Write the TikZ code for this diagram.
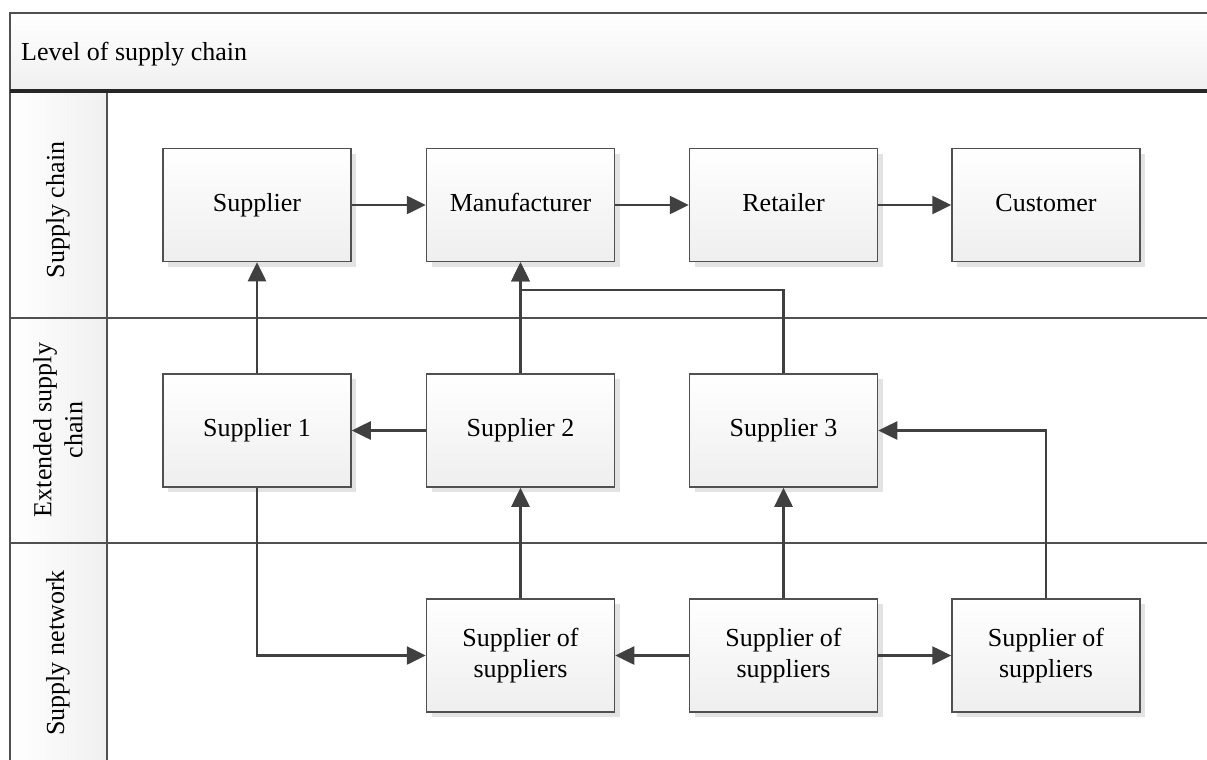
\documentclass[tikz,border=0pt]{standalone}
\usepackage{fontspec}
\setmainfont{Liberation Serif}
\usetikzlibrary{arrows.meta,shadows}
\definecolor{edgegray}{HTML}{404040}
\definecolor{framegray}{HTML}{505050}
\tikzset{
  stagebox/.style={draw=framegray,line width=1.5pt,top color=white,bottom color=gray!13,
    minimum width=188pt,minimum height=113pt,align=center,inner sep=2pt,
    drop shadow={shadow xshift=5pt,shadow yshift=-5pt,fill=gray!22,opacity=1}},
  oneline/.style={text height=18pt,text depth=6pt},
  flow/.style={draw=edgegray,line width=2.6pt,-{Triangle[length=19pt,width=18pt]}},
  lanerule/.style={draw=framegray,line width=2pt}
}
\begin{document}
\begin{tikzpicture}[x=1pt,y=-1pt,font=\fontsize{26}{31}\selectfont]
\useasboundingbox (0,0) rectangle (1207,760);
% swimlane frame
\path[top color=white,bottom color=gray!12] (10,13) rectangle (1207,91);
\draw[framegray,line width=2pt] (1207,13) -- (10,13) -- (10,760);
\draw[black!85,line width=4pt] (10,91) -- (1207,91);
\path[left color=white,right color=gray!12] (11,93) rectangle (107,760);
\draw[lanerule] (107,93) -- (107,760);
\draw[lanerule] (10,318) -- (1207,318);
\draw[lanerule] (10,543) -- (1207,543);
\node[anchor=west,inner sep=0pt] (title) at (21,54) {Level of supply chain};
\node[rotate=90,oneline] (lane1) at (58,210) {Supply chain};
\node[rotate=90,align=center] (lane2) at (58,430) {Extended supply\\chain};
\node[rotate=90,oneline] (lane3) at (58,653) {Supply network};
% boxes
\node[stagebox,oneline] (sup) at (257,205) {Supplier};
\node[stagebox,oneline] (man) at (520.5,205) {Manufacturer};
\node[stagebox,oneline] (ret) at (783.5,205) {Retailer};
\node[stagebox,oneline] (cus) at (1046,205) {Customer};
\node[stagebox,oneline] (s1) at (257,430.5) {Supplier 1};
\node[stagebox,oneline] (s2) at (520.5,430.5) {Supplier 2};
\node[stagebox,oneline] (s3) at (783.5,430.5) {Supplier 3};
\node[stagebox] (sos1) at (520.5,655.5) {Supplier of\\suppliers};
\node[stagebox] (sos2) at (783.5,655.5) {Supplier of\\suppliers};
\node[stagebox] (sos3) at (1046,655.5) {Supplier of\\suppliers};
\coordinate (join) at (520.5,290);
% connectors
\draw[flow] (sup) -- (man);
\draw[flow] (man) -- (ret);
\draw[flow] (ret) -- (cus);
\draw[flow] (s1) -- (sup);
\draw[flow] (s2) -- (man);
\draw[flow] (s3.north) |- (join) -- (man.south);
\draw[flow] (s2) -- (s1);
\draw[flow] (s1.south) |- (sos1.west);
\draw[flow] (sos1) -- (s2);
\draw[flow] (sos2) -- (s3);
\draw[flow] (sos2) -- (sos1);
\draw[flow] (sos2) -- (sos3);
\draw[flow] (sos3.north) |- (s3.east);
\end{tikzpicture}
\end{document}
